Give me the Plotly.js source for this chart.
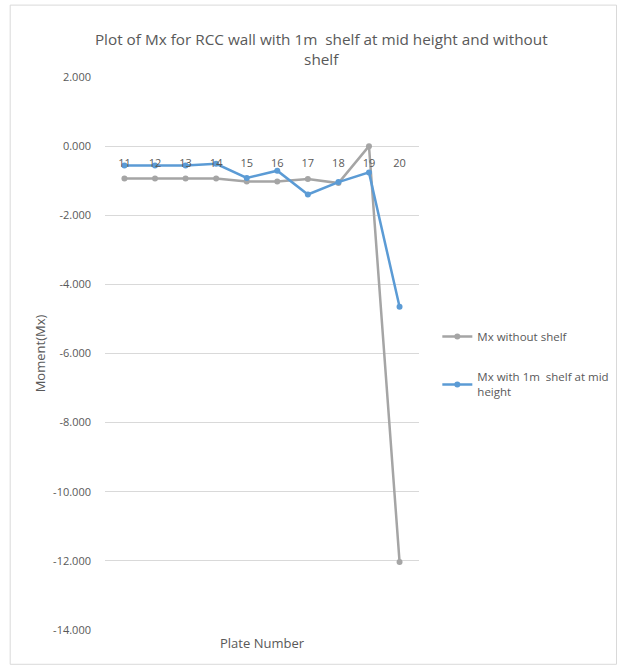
<!DOCTYPE html>
<html>
<head>
<meta charset="utf-8">
<script src="https://cdn.plot.ly/plotly-3.0.1.min.js"></script>
<style>
html,body{margin:0;padding:0;background:#fff;}
#chart{width:625px;height:668px;}
</style>
</head>
<body>
<div id="chart"></div>
<script>
const plates = ['11','12','13','14','15','16','17','18','19','20'];
const mxWithout = [-0.94, -0.94, -0.94, -0.94, -1.02, -1.02, -0.95, -1.07, 0.0, -12.03];
const mxWithShelf = [-0.56, -0.56, -0.56, -0.51, -0.92, -0.71, -1.40, -1.04, -0.76, -4.65];
const seriesNames = ['Mx without shelf', 'Mx with 1m  shelf at mid<br>height'];
const yTicks = [2, 0, -2, -4, -6, -8, -10, -12, -14];
const yTickLabels = ['2.000', '0.000', '-2.000', '-4.000', '-6.000', '-8.000', '-10.000', '-12.000', '-14.000'];

const textColor = '#595959';
const font = 'Open Sans, Liberation Sans, sans-serif';

const traces = [
  {
    x: plates, y: mxWithout, name: seriesNames[0], legendgroup: 'a', type: 'scatter', mode: 'lines+markers',
    line: {color: '#a5a5a5', width: 2.5}, marker: {color: '#a5a5a5', size: 6}
  },
  {
    x: plates, y: mxWithShelf, name: seriesNames[1], legendgroup: 'b', type: 'scatter', mode: 'lines+markers',
    line: {color: '#5b9bd5', width: 2.5}, marker: {color: '#5b9bd5', size: 6}
  }
];

const yMin = -14, yMax = 2;
const zeroPos = (0 - yMin) / (yMax - yMin);

const layout = {
  width: 625, height: 668,
  margin: {l: 105, r: 205, t: 77, b: 38},
  paper_bgcolor: '#ffffff', plot_bgcolor: '#ffffff',
  font: {family: font, color: textColor, size: 11},
  title: {
    text: 'Plot of Mx for RCC wall with 1m  shelf at mid height and without<br>shelf',
    font: {family: font, size: 15.3, color: textColor},
    x: 0.514, xanchor: 'center', y: 0.932, yanchor: 'top', yref: 'container'
  },
  xaxis: {
    type: 'category', anchor: 'free', position: zeroPos,
    showgrid: false, showline: false, zeroline: false, ticks: '',
    ticklabelstandoff: 9,
    tickfont: {family: font, size: 11, color: textColor}
  },
  yaxis: {
    range: [yMin, yMax], tickvals: yTicks, ticktext: yTickLabels,
    showgrid: true, gridcolor: '#d9d9d9', gridwidth: 1, zeroline: false,
    showline: false, ticks: '', ticklabelstandoff: 13,
    tickfont: {family: font, size: 11, color: textColor},
    title: {text: 'Moment(Mx)', font: {family: font, size: 13, color: textColor}, standoff: 4}
  },
  legend: {
    x: 1.055, xanchor: 'left', y: 0.557, yanchor: 'top',
    font: {family: font, size: 11.5, color: textColor},
    bgcolor: 'rgba(0,0,0,0)', traceorder: 'grouped', tracegroupgap: 22, itemwidth: 30
  },
  annotations: [
    {text: 'Plate Number', xref: 'paper', yref: 'paper', x: 0.5, y: -0.023, xanchor: 'center', yanchor: 'middle',
     showarrow: false, font: {family: font, size: 13, color: textColor}}
  ],
  shapes: [
    {type: 'rect', xref: 'paper', yref: 'paper', x0: -0.302, x1: 1.629, y0: -0.062, y1: 1.130,
     line: {color: '#d9d9d9', width: 1}, fillcolor: 'rgba(0,0,0,0)', layer: 'below'}
  ]
};

Plotly.newPlot('chart', traces, layout, {displayModeBar: false, staticPlot: true});
</script>
</body>
</html>
